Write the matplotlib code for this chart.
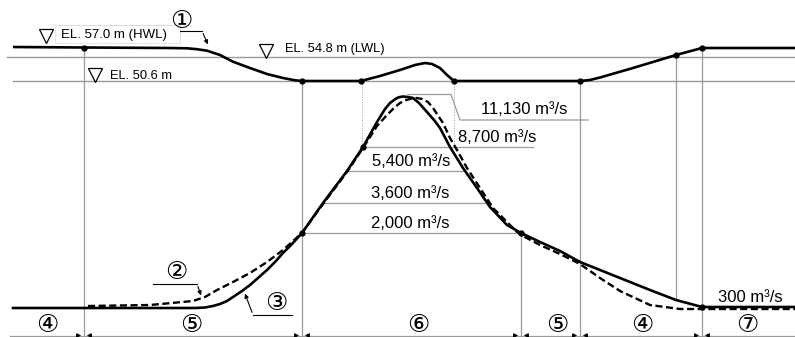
import numpy as np
import matplotlib.pyplot as plt

# diagram units: x = time axis (px), y = level / discharge axis (px, downwards)
wl_x = [13, 84, 170, 187, 197, 207, 220, 233, 250, 267, 283, 295, 302, 361, 380, 400, 415, 425,
        432, 440, 447, 454, 580, 590, 600, 633, 676, 702, 795]
wl_y = [47, 47.5, 48, 48.3, 49.2, 50.7, 55, 61.7, 68, 74, 78, 80.3, 81, 81, 76, 70, 65, 63,
        64, 68, 75, 81, 81, 80, 77.5, 68, 55, 48, 48]

q_out_x = [13, 150, 195, 205, 213, 220, 227, 233, 242, 250, 258, 267, 275, 283, 292, 302,
           323, 347, 363, 377, 385, 390, 394, 397, 400, 403, 408, 413, 419, 427, 434, 440,
           450, 463, 477, 490, 507, 521, 540, 560, 580, 620, 650, 676, 702, 795]
q_out_y = [308, 308, 308, 307.5, 306, 304, 301, 297, 291, 285, 278, 270, 262, 253, 244, 233,
           203, 171, 147, 122, 109, 103, 100, 98, 97, 96.5, 97, 98, 103, 112, 120, 128,
           147, 168, 188, 207, 225, 233, 242, 251, 262, 278, 290, 300, 307, 307]

q_in_x = [88, 150, 193, 205, 217, 233, 250, 267, 283, 302, 323, 347, 363, 377, 387, 394,
          400, 406, 412, 417, 422, 428, 433, 443, 450, 457, 467, 493, 517, 521, 540, 560,
          580, 590, 600, 620, 650, 680, 795]
q_in_y = [306, 305, 301, 297, 290, 282, 273, 262, 250, 233, 204, 172, 148, 126, 115, 108,
          103, 100, 98.5, 98, 99, 102, 108, 123, 138, 150, 168, 208, 232, 235, 245, 254,
          264, 271, 278, 291, 305, 309, 309]

wl_dots_x = [84, 302, 361, 454, 580, 676, 702]
wl_dots_y = [48, 81, 81, 81, 81, 55, 48]
q_dots_x = [302, 363, 521, 702]
q_dots_y = [233, 147, 233, 307]

# elevation marks
el_labels = ['EL. 57.0 m (HWL)', 'EL. 54.8 m (LWL)', 'EL. 50.6 m']
el_tri_x = [46, 266, 95]
el_tri_y = [36, 51, 75]
el_line_y = [57, 81]      # thin reference lines for LWL and EL. 50.6

# discharge levels
q_labels = ['2,000 m³/s', '3,600 m³/s', '5,400 m³/s', '8,700 m³/s']
q_lev_y = [233, 203, 171, 147]
q_lev_x0 = [302, 323, 347, 362]
q_lev_x1 = [515, 490, 465, 533]
q_txt_x = [410, 410, 411, 497]
peak_label = '11,130 m³/s'
base_label = '300 m³/s'

# section borders and labels
sec_x = [84, 302, 521, 580, 702]
sec_top = [48, 81, 233, 81, 48]
sec_labels = ['④', '⑤', '⑥', '⑤', '④', '⑦']
sec_lab_x = [47, 191, 418, 557, 642, 747]

GRAY = '#9a9a9a'
TXT = ['Liberation Sans', 'DejaVu Sans', 'Noto Sans CJK JP']

fig = plt.figure(figsize=(7.95, 3.37), dpi=100)
ax = fig.add_axes([0, 0, 1, 1])
ax.set_xlim(0, 795)
ax.set_ylim(337, 0)
ax.axis('off')

# reference lines
ax.plot([7, 795], [el_line_y[0]] * 2, color=GRAY, lw=1.0)
ax.plot([13, 795], [el_line_y[1]] * 2, color=GRAY, lw=1.0)

# vertical section lines
for x, top in zip(sec_x, sec_top):
    ax.plot([x, x], [top, 337], color=GRAY, lw=0.9)
ax.plot([676, 676], [55, 300], color=GRAY, lw=0.9)
ax.plot([362, 362], [81, 147], color=GRAY, lw=0.7, ls=':')
ax.plot([454, 454], [81, 145], color=GRAY, lw=0.7, ls=':')

# discharge level lines + labels
for y, x0, x1, tx, lab in zip(q_lev_y, q_lev_x0, q_lev_x1, q_txt_x, q_labels):
    ax.plot([x0, x1], [y, y], color=GRAY, lw=0.9)
    ax.text(tx, y - 10, lab, ha='center', va='center', fontsize=12, family=TXT)
ax.plot([408, 451, 460, 588], [94.5, 94.5, 120, 120], color=GRAY, lw=0.9)
ax.text(524, 110, peak_label, ha='center', va='center', fontsize=12, family=TXT)
ax.text(750, 297, base_label, ha='center', va='center', fontsize=12, family=TXT)

# curves
ax.plot(wl_x, wl_y, color='black', lw=1.9, solid_capstyle='butt', solid_joinstyle='round')
ax.plot(q_in_x, q_in_y, color='black', lw=1.7, ls=(0, (3, 1.5)))
ax.plot(q_out_x, q_out_y, color='black', lw=1.9, solid_joinstyle='round')
ax.plot(wl_dots_x, wl_dots_y, 'o', color='black', ms=3.5)
ax.plot(q_dots_x, q_dots_y, 'o', color='black', ms=3.5)

# elevation triangles and texts
ax.plot(el_tri_x, el_tri_y, 'v', ms=10, mfc='white', mec='black', mew=0.9)
ax.text(61, 35, el_labels[0], ha='left', va='center', fontsize=9.5, family=TXT)
ax.text(285, 49, el_labels[1], ha='left', va='center', fontsize=9.3, family=TXT)
ax.text(110, 76, el_labels[2], ha='left', va='center', fontsize=9.3, family=TXT)
ax.plot([55, 180, 180], [25, 25, 43], color='#dddddd', lw=0.8)
ax.plot([55, 55, 180], [25, 43, 43], color='#e8e8e8', lw=0.8)

# leaders for circled numbers
arr = dict(arrowstyle='-|>', color='black', lw=0.8, mutation_scale=6)
CIRC = 18
ax.text(181, 21, '①', ha='center', va='center', fontsize=CIRC, family=TXT)
ax.plot([180, 202], [31, 31], color='black', lw=0.8)
ax.annotate('', xy=(209, 47), xytext=(202, 31), arrowprops=arr)
ax.text(176, 272, '②', ha='center', va='center', fontsize=CIRC, family=TXT)
ax.plot([153, 197], [284, 284], color='black', lw=0.8)
ax.annotate('', xy=(202, 298), xytext=(197, 284), arrowprops=arr)
ax.text(276, 303, '③', ha='center', va='center', fontsize=CIRC, family=TXT)
ax.plot([292, 253], [315, 315], color='black', lw=0.8)
ax.annotate('', xy=(244, 291), xytext=(253, 315), arrowprops=arr)

# bottom dimension line with section labels
ax.plot([10, 795], [335.5, 335.5], color=GRAY, lw=0.9)
for x in sec_x:
    ax.annotate('', xy=(x, 335.5), xytext=(x - 9, 335.5), arrowprops=arr)
    ax.annotate('', xy=(x, 335.5), xytext=(x + 9, 335.5), arrowprops=arr)
for x, lab in zip(sec_lab_x, sec_labels):
    ax.text(x, 325, lab, ha='center', va='center', fontsize=CIRC, family=TXT)

fig.savefig('out.png', dpi=100)
